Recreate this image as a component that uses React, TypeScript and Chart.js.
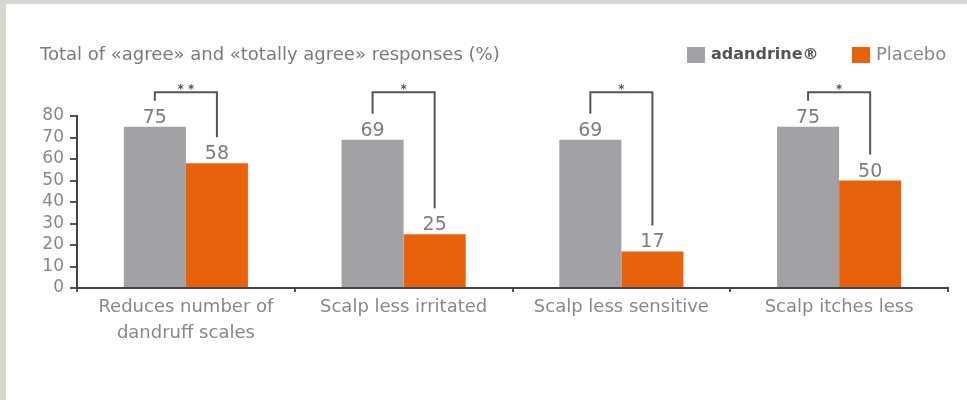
import React, { useEffect, useRef } from "react";
import { Chart, registerables } from "chart.js";

Chart.register(...registerables);

const CATEGORIES: (string | string[])[] = [
  ["Reduces number of", "dandruff scales"],
  "Scalp less irritated",
  "Scalp less sensitive",
  "Scalp itches less",
];
const SERIES_NAMES = ["adandrine®", "Placebo"];
const ADANDRINE = [75, 69, 69, 75];
const PLACEBO = [58, 25, 17, 50];
const SIGNIFICANCE = ["**", "*", "*", "*"];
const Y_MAX = 80;
const Y_STEP = 10;
const BRACKET_LEVEL = 91;
const TITLE = "Total of «agree» and «totally agree» responses (%)";

const GRAY = "#a2a1a5";
const ORANGE = "#e8620c";
const COLORS = [GRAY, ORANGE];
const FONT = "'DejaVu Sans', sans-serif";
const TEXT = "#888888";

const annotatePlugin = {
  id: "annotate",
  afterDatasetsDraw(chart: any) {
    const ctx = chart.ctx;
    const yScale = chart.scales.y;
    const metas = [chart.getDatasetMeta(0), chart.getDatasetMeta(1)];
    ctx.save();
    ctx.fillStyle = "#7d7d7d";
    ctx.font = `19px ${FONT}`;
    ctx.textAlign = "center";
    ctx.textBaseline = "alphabetic";
    metas.forEach((m, di) => {
      m.data.forEach((bar: any, i: number) => {
        const v = chart.data.datasets[di].data[i];
        ctx.fillText(String(v), bar.x, bar.y - 4);
      });
    });
    const top = yScale.getPixelForValue(BRACKET_LEVEL);
    ctx.strokeStyle = "#555";
    ctx.lineWidth = 2;
    ctx.fillStyle = "#555";
    ctx.font = `bold 12px ${FONT}`;
    SIGNIFICANCE.forEach((s, i) => {
      const a = metas[0].data[i];
      const b = metas[1].data[i];
      ctx.beginPath();
      ctx.moveTo(a.x, a.y - 26);
      ctx.lineTo(a.x, top);
      ctx.lineTo(b.x, top);
      ctx.lineTo(b.x, b.y - 26);
      ctx.stroke();
      ctx.fillText(s.split("").join(" "), (a.x + b.x) / 2, top + 1);
    });

    // title
    ctx.textAlign = "left";
    ctx.textBaseline = "middle";
    ctx.fillStyle = "#7a7a7a";
    ctx.font = `18px ${FONT}`;
    ctx.fillText(TITLE, 40, 55);

    // legend
    const lx = [687, 852];
    SERIES_NAMES.forEach((name, i) => {
      ctx.fillStyle = COLORS[i];
      ctx.fillRect(lx[i], 47, 18, 16);
      ctx.fillStyle = i === 0 ? "#555" : TEXT;
      ctx.font = `${i === 0 ? "bold 16px" : "18px"} ${FONT}`;
      ctx.fillText(name, lx[i] + 24, 55);
    });
    ctx.restore();
  },
};

function ChartCanvas() {
  const ref = useRef<HTMLCanvasElement | null>(null);
  useEffect(() => {
    if (!ref.current) return;
    const chart = new Chart(ref.current, {
      type: "bar",
      data: {
        labels: CATEGORIES,
        datasets: [
          { label: SERIES_NAMES[0], data: ADANDRINE, backgroundColor: GRAY, categoryPercentage: 0.57, barPercentage: 1 },
          { label: SERIES_NAMES[1], data: PLACEBO, backgroundColor: ORANGE, categoryPercentage: 0.57, barPercentage: 1 },
        ],
      },
      options: {
        animation: false,
        responsive: false,
        maintainAspectRatio: false,
        layout: { padding: { left: 0, right: 19, top: 116, bottom: 42 } },
        plugins: { legend: { display: false }, title: { display: false }, tooltip: { enabled: false } },
        scales: {
          x: {
            afterFit: (s: any) => { s.height = 70; },
            grid: { drawOnChartArea: false, tickLength: 4, color: "#555", lineWidth: 2 },
            border: { color: "#444", width: 2 },
            ticks: { color: TEXT, font: { family: FONT, size: 18, lineHeight: 1.45 }, padding: 2, maxRotation: 0 },
          },
          y: {
            min: 0,
            max: Y_MAX,
            afterFit: (s: any) => { s.width = 77; },
            grid: { drawOnChartArea: false, tickLength: 7, color: "#555", lineWidth: 2 },
            border: { color: "#444", width: 2 },
            ticks: { stepSize: Y_STEP, autoSkip: false, color: TEXT, font: { family: FONT, size: 17 }, padding: 6 },
          },
        },
      },
      plugins: [annotatePlugin],
    });
    return () => chart.destroy();
  }, []);
  return <canvas ref={ref} width={967} height={400} style={{ position: "absolute", left: 0, top: 0 }} />;
}

export default function App() {
  return (
    <div style={{ position: "fixed", left: 0, top: 0, width: 967, height: 400, background: "#d9d6d1", overflow: "hidden", fontFamily: FONT }}>
      <div style={{ position: "absolute", left: 6, top: 4, right: 0, bottom: 0, background: "#fff" }} />
      <ChartCanvas />
    </div>
  );
}
